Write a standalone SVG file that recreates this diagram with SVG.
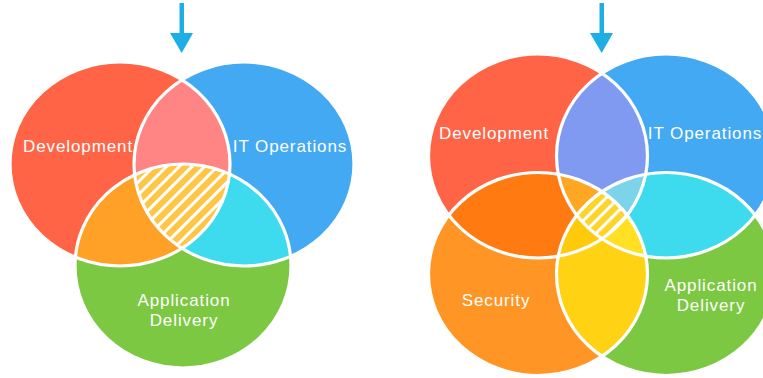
<svg xmlns="http://www.w3.org/2000/svg" xmlns:xlink="http://www.w3.org/1999/xlink" width="763" height="378" viewBox="0 0 763 378">
<style>
.lbl{font-family:"Liberation Sans",Arial,sans-serif;font-size:17px;fill:#fff;text-anchor:middle;letter-spacing:0.9px}
.ol{fill:none;stroke:#fff;stroke-width:3.2}
.arrow{fill:#1DAEE6}
</style>
<defs>
<ellipse id="lD" cx="120" cy="164" rx="110" ry="102"/>
<ellipse id="lI" cx="244" cy="164" rx="110" ry="102"/>
<ellipse id="lA" cx="183" cy="266" rx="108" ry="102"/>
<ellipse id="rD" cx="538" cy="156" rx="109.5" ry="102"/>
<ellipse id="rI" cx="666" cy="156" rx="109.5" ry="102"/>
<ellipse id="rS" cx="538" cy="274" rx="109.5" ry="101.5"/>
<ellipse id="rA" cx="666" cy="274" rx="109.5" ry="101.5"/>
<clipPath id="clD"><use xlink:href="#lD"/></clipPath>
<clipPath id="clI"><use xlink:href="#lI"/></clipPath>
<clipPath id="clA"><use xlink:href="#lA"/></clipPath>
<clipPath id="crD"><use xlink:href="#rD"/></clipPath>
<clipPath id="crI"><use xlink:href="#rI"/></clipPath>
<clipPath id="crS"><use xlink:href="#rS"/></clipPath>
<clipPath id="crA"><use xlink:href="#rA"/></clipPath>
<pattern id="hatchL" patternUnits="userSpaceOnUse" width="9" height="9" patternTransform="rotate(45)">
<rect width="9" height="9" fill="#FFC544"/>
<rect width="3" height="9" fill="#fff"/>
</pattern>
<pattern id="hatchR" patternUnits="userSpaceOnUse" width="9" height="9" patternTransform="rotate(45)">
<rect width="9" height="9" fill="#FFD42A"/>
<rect width="3" height="9" fill="#fff"/>
</pattern>
</defs>

<g id="regions-left">
<use xlink:href="#lD" fill="#FF6446"/>
<use xlink:href="#lI" fill="#43A9F2"/>
<use xlink:href="#lA" fill="#7CC843"/>
<use xlink:href="#lI" fill="#FF8585" clip-path="url(#clD)"/>
<use xlink:href="#lA" fill="#FFA126" clip-path="url(#clD)"/>
<use xlink:href="#lA" fill="#3EDBEF" clip-path="url(#clI)"/>
<g clip-path="url(#clD)"><use xlink:href="#lA" fill="url(#hatchL)" clip-path="url(#clI)"/></g>
</g>

<g id="regions-right">
<use xlink:href="#rD" fill="#FF6446"/>
<use xlink:href="#rI" fill="#43A9F2"/>
<use xlink:href="#rS" fill="#FF9524"/>
<use xlink:href="#rA" fill="#7CC843"/>
<use xlink:href="#rI" fill="#7F9AF0" clip-path="url(#crD)"/>
<use xlink:href="#rS" fill="#FF7B12" clip-path="url(#crD)"/>
<use xlink:href="#rA" fill="#3EDBEF" clip-path="url(#crI)"/>
<use xlink:href="#rA" fill="#FFD314" clip-path="url(#crS)"/>
<use xlink:href="#rA" fill="#FFC90C" clip-path="url(#crD)"/>
<use xlink:href="#rS" fill="#FFC90C" clip-path="url(#crI)"/>
<g clip-path="url(#crD)"><use xlink:href="#rI" fill="#FFA623" clip-path="url(#crS)"/></g>
<g clip-path="url(#crD)"><use xlink:href="#rI" fill="#7DD4EA" clip-path="url(#crA)"/></g>
<g clip-path="url(#crD)"><use xlink:href="#rS" fill="#FFC90C" clip-path="url(#crA)"/></g>
<g clip-path="url(#crI)"><use xlink:href="#rS" fill="#FFE022" clip-path="url(#crA)"/></g>
<g clip-path="url(#crD)"><g clip-path="url(#crI)"><use xlink:href="#rS" fill="url(#hatchR)" clip-path="url(#crA)"/></g></g>
</g>

<g id="left-dev"><use xlink:href="#lD" class="ol"/><text class="lbl" x="78" y="152">Development</text></g>
<g id="left-itops"><use xlink:href="#lI" class="ol"/><text class="lbl" x="290" y="152">IT Operations</text></g>
<g id="left-appdel"><use xlink:href="#lA" class="ol"/><text class="lbl" x="184" y="306">Application</text><text class="lbl" x="184" y="326">Delivery</text></g>

<g id="right-dev"><use xlink:href="#rD" class="ol"/><text class="lbl" x="494" y="139">Development</text></g>
<g id="right-itops"><use xlink:href="#rI" class="ol"/><text class="lbl" x="705" y="139">IT Operations</text></g>
<g id="right-security"><use xlink:href="#rS" class="ol"/><text class="lbl" x="496" y="306">Security</text></g>
<g id="right-appdel"><use xlink:href="#rA" class="ol"/><text class="lbl" x="711" y="291">Application</text><text class="lbl" x="711" y="311">Delivery</text></g>

<g id="connectors">
<rect class="arrow" x="179.5" y="3" width="4.5" height="32"/>
<polygon class="arrow" points="170,33 193,33 181.7,53"/>
<rect class="arrow" x="599.5" y="3" width="4.5" height="32"/>
<polygon class="arrow" points="590,33 613,33 601.7,53"/>
</g>
</svg>
